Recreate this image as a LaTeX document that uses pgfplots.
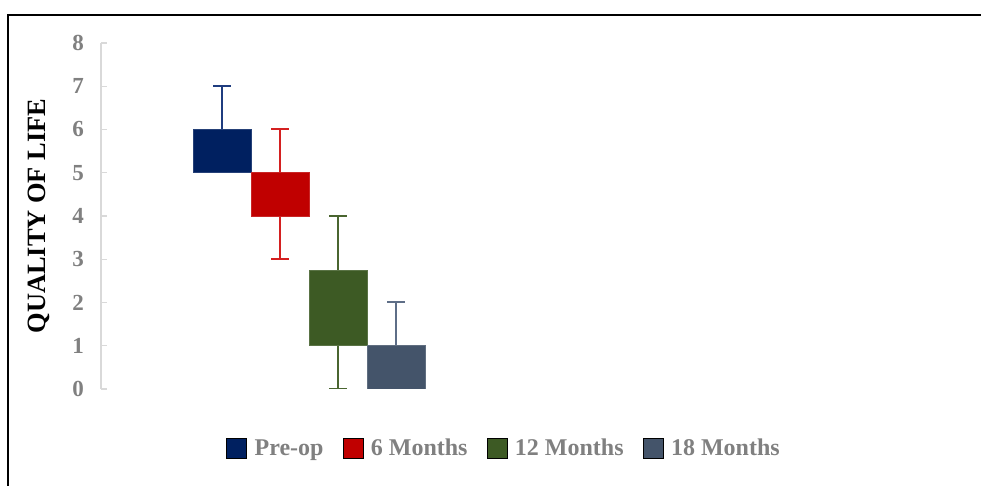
\documentclass[border=0pt]{standalone}
\usepackage{fontspec}
\setmainfont{Liberation Serif}
\usepackage{pgfplots}
\pgfplotsset{compat=1.18}
\definecolor{cA}{HTML}{002060}
\definecolor{cAw}{HTML}{1F3C7F}
\definecolor{cB}{HTML}{C00000}
\definecolor{cBw}{HTML}{D42020}
\definecolor{cC}{HTML}{3D5A24}
\definecolor{cCw}{HTML}{4A6530}
\definecolor{cD}{HTML}{44546A}
\definecolor{cDw}{HTML}{5E6E87}
\definecolor{axisgray}{HTML}{D9D9D9}
\definecolor{labgray}{HTML}{808080}
\begin{document}
\begin{tikzpicture}
\useasboundingbox (0pt,0pt) rectangle (981pt,486pt);
\draw[line width=1.6pt] (8pt,-5pt) -- (8pt,471pt) -- (990pt,471pt);
\begin{axis}[
  at={(101pt,97pt)}, anchor=south west,
  scale only axis, width=860pt, height=346pt,
  xmin=-1.0862, xmax=13.741, ymin=0, ymax=8,
  axis x line=none, axis y line*=left,
  y axis line style={draw=axisgray, line width=1.3pt},
  ytick={0,1,...,8}, xtick=\empty,
  ytick style={draw=axisgray, line width=1.3pt},
  major tick length=6pt, tick align=inside,
  /pgf/number format/assume math mode=true,
  yticklabel={\pgfmathprintnumber{\tick}},
  yticklabel style={font=\bfseries\fontsize{23}{27}\selectfont, text=labgray, inner sep=0pt, xshift=-17pt, anchor=east},
  ylabel={QUALITY OF LIFE},
  ylabel style={font=\bfseries\fontsize{26.4}{30}\selectfont, at={(axis description cs:-0.0721,0.5)}, anchor=center},
  legend image code/.code={\fill[#1] (0pt,-10pt) rectangle (20pt,10pt);},
  legend style={font=\bfseries\fontsize{24}{28}\selectfont, text=labgray, draw=none, fill=none,
    legend columns=4, at={(axis description cs:0.4686,-0.171)}, anchor=center,
    /tikz/every odd column/.append style={column sep=6pt},
    /tikz/every even column/.append style={column sep=17pt}},
]
% whiskers
\addplot[cAw, line width=2pt, forget plot] coordinates {(1,6) (1,7)};
\addplot[cAw, line width=2pt, forget plot] coordinates {(0.853,7) (1.147,7)};
\addplot[cBw, line width=2pt, forget plot] coordinates {(2,3) (2,6)};
\addplot[cBw, line width=2pt, forget plot] coordinates {(1.853,6) (2.147,6)};
\addplot[cBw, line width=2pt, forget plot] coordinates {(1.853,3) (2.147,3)};
\addplot[cCw, line width=2pt, forget plot] coordinates {(3,0) (3,4)};
\addplot[cCw, line width=2pt, forget plot] coordinates {(2.853,4) (3.147,4)};
\addplot[cCw, line width=2pt, forget plot] coordinates {(2.853,0) (3.147,0)};
\addplot[cDw, line width=2pt, forget plot] coordinates {(4,1) (4,2)};
\addplot[cDw, line width=2pt, forget plot] coordinates {(3.853,2) (4.147,2)};
% boxes
\addplot[fill=cA, draw=cA!85!white, line width=0.8pt, forget plot] coordinates {(0.5,5) (1.5,5) (1.5,6) (0.5,6) (0.5,5)};
\addplot[fill=cB, draw=cB!85!white, line width=0.8pt, forget plot] coordinates {(1.5,4) (2.5,4) (2.5,5) (1.5,5) (1.5,4)};
\addplot[fill=cC, draw=cC!85!white, line width=0.8pt, forget plot] coordinates {(2.5,1) (3.5,1) (3.5,2.75) (2.5,2.75) (2.5,1)};
\addplot[fill=cD, draw=cD!85!white, line width=0.8pt, forget plot] coordinates {(3.5,0) (4.5,0) (4.5,1) (3.5,1) (3.5,0)};
\addlegendimage{fill=cA}
\addlegendimage{fill=cB}
\addlegendimage{fill=cC}
\addlegendimage{fill=cD}
\legend{Pre-op, 6 Months, 12 Months, 18 Months}
\end{axis}
\end{tikzpicture}
\end{document}
